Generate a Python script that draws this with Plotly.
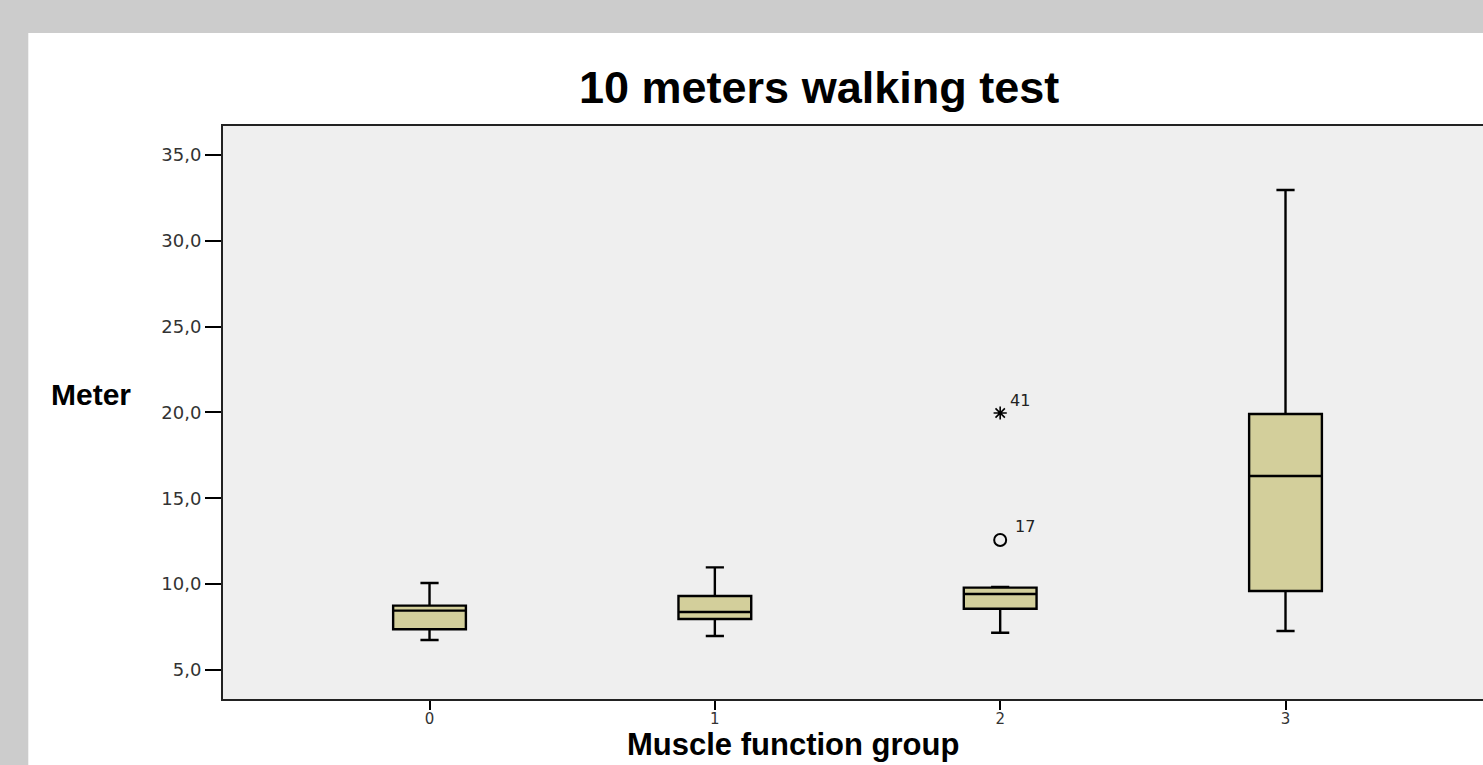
import plotly.graph_objects as go

# ---- data ----
groups = [0, 1, 2, 3]
group_labels = ["0", "1", "2", "3"]
lower_whisker = [6.75, 6.98, 7.17, 7.27]
q1_values = [7.37, 7.97, 8.57, 9.60]
median_values = [8.46, 8.38, 9.43, 16.30]
q3_values = [8.75, 9.31, 9.80, 19.91]
upper_whisker = [10.07, 10.98, 9.84, 32.96]

outlier_group = [2]
outlier_value = [12.57]
outlier_case = ["17"]

extreme_group = [2]
extreme_value = [19.97]
extreme_case = ["41"]

y_ticks = [5, 10, 15, 20, 25, 30, 35]
y_tick_labels = ["5,0", "10,0", "15,0", "20,0", "25,0", "30,0", "35,0"]

# ---- layout constants ----
W, H = 1483, 765
ML, MR, MT, MB = 223, 0, 126, 66
PW, PH = W - ML - MR, H - MT - MB


def px_x(p):
    return (p - ML) / PW


def px_y(p):
    return (H - MB - p) / PH


fig = go.Figure()

fig.add_trace(go.Box(
    x=groups,
    q1=q1_values,
    median=median_values,
    q3=q3_values,
    lowerfence=lower_whisker,
    upperfence=upper_whisker,
    width=0.255,
    whiskerwidth=0.25,
    fillcolor="#d3cf9b",
    line=dict(color="#000000", width=2.4),
    boxpoints=False,
    showlegend=False,
    hoverinfo="skip",
))

fig.add_trace(go.Scatter(
    x=outlier_group, y=outlier_value, mode="markers",
    marker=dict(symbol="circle-open", size=12, color="#000000", line=dict(width=2)),
    showlegend=False, hoverinfo="skip",
))
fig.add_trace(go.Scatter(
    x=extreme_group, y=extreme_value, mode="markers",
    marker=dict(symbol="asterisk-open", size=11, color="#000000", line=dict(width=1.6, color="#000000")),
    showlegend=False, hoverinfo="skip",
))

annotations = []
for g, v, c in zip(outlier_group, outlier_value, outlier_case):
    annotations.append(dict(x=g, y=v, xref="x", yref="y", text=c, showarrow=False,
                            xshift=25, yshift=14,
                            font=dict(family="DejaVu Sans", size=16, color="#222222")))
for g, v, c in zip(extreme_group, extreme_value, extreme_case):
    annotations.append(dict(x=g, y=v, xref="x", yref="y", text=c, showarrow=False,
                            xshift=20, yshift=13,
                            font=dict(family="DejaVu Sans", size=16, color="#222222")))

# titles
annotations.append(dict(x=px_x(819), y=px_y(87), xref="paper", yref="paper",
                        text="<b>10 meters walking test</b>", showarrow=False,
                        xanchor="center", yanchor="middle",
                        font=dict(family="Liberation Sans", size=45, color="#000000")))
annotations.append(dict(x=px_x(793), y=px_y(744.5), xref="paper", yref="paper",
                        text="<b>Muscle function group</b>", showarrow=False,
                        xanchor="center", yanchor="middle",
                        font=dict(family="Liberation Sans", size=31, color="#000000")))
annotations.append(dict(x=px_x(90.5), y=px_y(394.5), xref="paper", yref="paper",
                        text="<b>Meter</b>", showarrow=False,
                        xanchor="center", yanchor="middle",
                        font=dict(family="Liberation Sans", size=30, color="#000000")))

shapes = [
    # gray page frame (top and left strips)
    dict(type="rect", xref="paper", yref="paper", x0=-0.5, x1=1.5,
         y0=px_y(33), y1=px_y(-20), fillcolor="#cccccc", line=dict(width=0), layer="above"),
    dict(type="rect", xref="paper", yref="paper", x0=px_x(-20), x1=px_x(28.3),
         y0=px_y(800), y1=px_y(-20), fillcolor="#cccccc", line=dict(width=0), layer="above"),
]

fig.update_layout(
    width=W, height=H,
    margin=dict(l=ML, r=MR, t=MT, b=MB, pad=0),
    paper_bgcolor="#ffffff",
    plot_bgcolor="#efefef",
    annotations=annotations,
    shapes=shapes,
    showlegend=False,
    xaxis=dict(
        range=[-0.7238, -0.7238 + PW / 285.33],
        tickmode="array", tickvals=groups, ticktext=group_labels,
        ticks="outside", ticklen=9, tickwidth=2, tickcolor="#000000",
        ticklabelstandoff=-4,
        showline=True, linecolor="#222222", linewidth=1.5, mirror=True,
        showgrid=False, zeroline=False,
        tickfont=dict(family="DejaVu Sans", size=15, color="#333333"),
    ),
    yaxis=dict(
        range=[5 - (H - MB - 670) / 17.167, 5 + (670 - MT) / 17.167],
        tickmode="array", tickvals=y_ticks, ticktext=y_tick_labels,
        ticks="outside", ticklen=16, tickwidth=2, tickcolor="#000000",
        showline=True, linecolor="#222222", linewidth=2,
        showgrid=False, zeroline=False,
        tickfont=dict(family="DejaVu Sans", size=18, color="#333333"),
    ),
)

fig.write_html(
    "out.html",
    config={"displayModeBar": False},
    post_script="document.body.style.margin='0';document.body.style.overflow='hidden';",
)
